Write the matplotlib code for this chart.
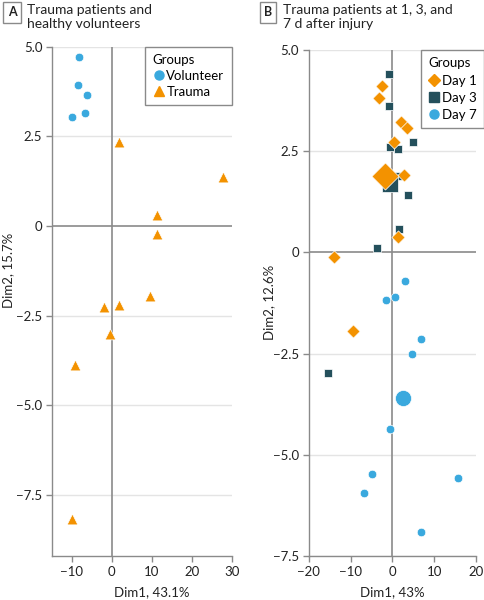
import matplotlib
matplotlib.use("Agg")
import matplotlib.pyplot as plt
from matplotlib.lines import Line2D

plt.rcParams['font.family'] = ['Lato', 'DejaVu Sans']
plt.rcParams['axes.unicode_minus'] = True

ORANGE = '#F39200'
BLUE = '#3AA9DE'
TEAL = '#24505C'
GRAY = '#8a8a8a'
GRID = '#e4e4e4'
TXT = '#222222'

# Panel A data
vol_x = [-8.2, -8.4, -6.2, -6.7, -9.9]
vol_y = [4.71, 3.93, 3.65, 3.15, 3.04]
tra_x = [1.9, 27.8, 11.2, 11.2, 9.5, 1.9, -1.9, -0.5, -9.3, -10.1]
tra_y = [2.33, 1.37, 0.31, -0.22, -1.94, -2.20, -2.27, -3.00, -3.87, -8.16]

# Panel B data
d1_x = [-2.6, -3.3, 2.1, 3.5, 0.4, 2.8, 1.4, -14.0, -9.4]
d1_y = [4.11, 3.81, 3.23, 3.08, 2.72, 1.90, 0.37, -0.11, -1.95]
d1_cx, d1_cy = -1.7, 1.89
d3_x = [-0.9, -0.8, 5.0, -0.5, 1.3, 1.4, 3.6, 1.5, -3.7, -15.4]
d3_y = [4.40, 3.61, 2.72, 2.60, 2.55, 1.89, 1.41, 0.58, 0.11, -2.99]
d3_cx, d3_cy = -0.6, 1.70
d7_x = [3.1, 0.5, -1.5, 6.7, 4.7, -0.6, -5.0, -6.8, 15.6, 6.9]
d7_y = [-0.70, -1.10, -1.18, -2.15, -2.50, -4.37, -5.47, -5.94, -5.57, -6.91]
d7_cx, d7_cy = 2.4, -3.60

fig = plt.figure(figsize=(4.85, 6.0), dpi=100)
axA = fig.add_axes([52/485, 1-556/600, 179.7/485, (556-46.7)/600])
axB = fig.add_axes([308.7/485, 1-556/600, 167.6/485, (556-50)/600])

def style(ax, xlim, ylim, xticks, yticks, ylabels):
    ax.set_xlim(*xlim)
    ax.set_ylim(*ylim)
    ax.set_xticks(xticks)
    ax.set_yticks(yticks)
    ax.set_yticklabels(ylabels)
    ax.set_xticklabels([str(t).replace('-', '\u2212') for t in xticks])
    for s in ['top', 'right']:
        ax.spines[s].set_visible(False)
    for s in ['left', 'bottom']:
        ax.spines[s].set_color(GRAY)
        ax.spines[s].set_linewidth(1.0)
    ax.tick_params(colors=GRAY, labelcolor=TXT, labelsize=9.5, length=4, width=1.0, pad=3)
    for y in yticks:
        if y != 0:
            ax.axhline(y, color=GRID, lw=1.0, zorder=0)
    ax.axhline(0, color=GRAY, lw=1.2, zorder=1)
    ax.axvline(0, color=GRAY, lw=1.2, zorder=1)

yt = [-7.5, -5.0, -2.5, 0, 2.5, 5.0]
yl = ['\u22127.5', '\u22125.0', '\u22122.5', '0', '2.5', '5.0']
style(axA, (-15, 30), (-9.2, 5.0), [-10, 0, 10, 20, 30], yt, yl)
style(axB, (-20, 20), (-7.5, 5.0), [-20, -10, 0, 10, 20], yt, yl)

EW = 0.5
axA.scatter(vol_x, vol_y, s=38, marker='o', color=BLUE, edgecolor='white', linewidth=EW, zorder=3)
axA.scatter(tra_x, tra_y, s=60, marker='^', color=ORANGE, edgecolor='white', linewidth=EW, zorder=3)

axB.scatter(d3_x, d3_y, s=36, marker='s', color=TEAL, edgecolor='white', linewidth=EW, zorder=3)
axB.scatter([d3_cx], [d3_cy], s=140, marker='s', color=TEAL, edgecolor='white', linewidth=EW, zorder=3)
axB.scatter(d1_x, d1_y, s=45, marker='D', color=ORANGE, edgecolor='white', linewidth=EW, zorder=4)
axB.scatter([d1_cx], [d1_cy], s=190, marker='D', color=ORANGE, edgecolor='white', linewidth=EW, zorder=4)
axB.scatter(d7_x, d7_y, s=38, marker='o', color=BLUE, edgecolor='white', linewidth=EW, zorder=3)
axB.scatter([d7_cx], [d7_cy], s=135, marker='o', color=BLUE, edgecolor='white', linewidth=EW, zorder=3)

LF = 9.5
axA.set_xlabel('Dim1, 43.1%', fontsize=LF, color=TXT, va='center')
axA.set_ylabel('Dim2, 15.7%', fontsize=LF, color=TXT, va='center')
axB.set_xlabel('Dim1, 43%', fontsize=LF, color=TXT, va='center')
axB.set_ylabel('Dim2, 12.6%', fontsize=LF, color=TXT, va='center')
# pixel positions converted to axes fractions
axA.xaxis.set_label_coords((152 - 52) / 179.7, (556 - 592) / 509.3)
axA.yaxis.set_label_coords((8 - 52) / 179.7, (556 - 270) / 509.3)
axB.xaxis.set_label_coords((392.5 - 308.7) / 167.6, (556 - 592) / 506)
axB.yaxis.set_label_coords((269 - 308.7) / 167.6, (556 - 302) / 506)

def legend(ax, handles, loc, bbox, ls):
    lg = ax.legend(handles=handles, title='Groups', loc=loc, bbox_to_anchor=bbox,
                   fontsize=9.5, title_fontsize=9.5, alignment='left',
                   frameon=True, fancybox=False, edgecolor=GRAY, framealpha=1,
                   handletextpad=0.15, handlelength=0.9, borderpad=0.55,
                   labelspacing=ls, borderaxespad=0)
    lg.get_frame().set_linewidth(1.0)
    return lg

hA = [Line2D([], [], ls='none', marker='o', color=BLUE, markersize=6.5, label='Volunteer'),
      Line2D([], [], ls='none', marker='^', color=ORANGE, markersize=7.5, label='Trauma')]
legend(axA, hA, 'upper right', (1.0, 1.0), 0.3)
hB = [Line2D([], [], ls='none', marker='D', color=ORANGE, markersize=6, label='Day 1'),
      Line2D([], [], ls='none', marker='s', color=TEAL, markersize=6.5, label='Day 3'),
      Line2D([], [], ls='none', marker='o', color=BLUE, markersize=6.5, label='Day 7')]
legend(axB, hB, 'upper right', (1.048, 1.0), 0.4)

# Panel labels and titles
for x, letter, title in [(3, 'A', 'Trauma patients and\nhealthy volunteers'),
                         (259, 'B', 'Trauma patients at 1, 3, and\n7 d after injury')]:
    fig.text((x + 9) / 485, 1 - 12.5 / 600, letter, fontsize=9, fontweight='bold',
             ha='center', va='center', color=TXT,
             bbox=dict(boxstyle='square,pad=0.35', fc='white', ec=GRAY, lw=1.0))
    fig.text((x + 24) / 485, 1 - 4.5 / 600, title, fontsize=10, ha='left', va='top',
             color=TXT, linespacing=1.1)

fig.savefig('out.png', dpi=100)
